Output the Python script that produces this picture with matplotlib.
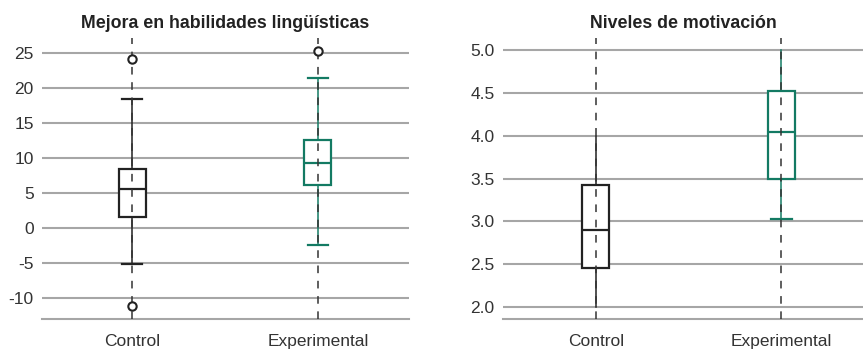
import matplotlib
matplotlib.use("Agg")
import matplotlib.pyplot as plt

plt.rcParams['font.family'] = ['Liberation Sans', 'DejaVu Sans']

groups = ["Control", "Experimental"]
colors = ["#222222", "#137a63"]

# Mejora en habilidades lingüísticas
ling_whislo = [-5.2, -2.4]
ling_q1 = [1.6, 6.2]
ling_med = [5.6, 9.3]
ling_q3 = [8.4, 12.6]
ling_whishi = [18.5, 21.4]
ling_fliers = [[24.2, -11.1], [25.3]]

# Niveles de motivación
mot_whislo = [2.0, 3.03]
mot_q1 = [2.45, 3.5]
mot_med = [2.9, 4.05]
mot_q3 = [3.43, 4.52]
mot_whishi = [4.0, 5.0]
mot_fliers = [[], []]

grid_col = "#a6a6a6"


def draw(ax, whislo, q1, med, q3, whishi, fliers, title, ylim, yticks,
         ylabels, xlim, hide_caps=()):
    stats = []
    for i in range(len(groups)):
        stats.append(dict(whislo=whislo[i], q1=q1[i], med=med[i], q3=q3[i],
                          whishi=whishi[i], fliers=fliers[i], label=groups[i]))
    for y in yticks:
        ax.axhline(y, color=grid_col, lw=1.5, zorder=0)
    for x in range(1, len(groups) + 1):
        ax.axvline(x, color="#333333", lw=1.1, ls=(0, (5, 5)), zorder=4)
    bp = ax.bxp(stats, positions=[1, 2], widths=0.145, patch_artist=True,
                capwidths=0.11, showfliers=True)
    for i, c in enumerate(colors):
        bp['boxes'][i].set(facecolor="white", edgecolor=c, linewidth=1.6,
                           zorder=2)
        bp['medians'][i].set(color=c, linewidth=1.6, zorder=3)
        for j in (2 * i, 2 * i + 1):
            bp['whiskers'][j].set(color=c, linewidth=1.1, zorder=3)
            bp['caps'][j].set(color=c, linewidth=1.6, zorder=3)
        # outliers are drawn in black for both groups
        bp['fliers'][i].set(marker='o', markerfacecolor='white',
                            markeredgecolor="#222222", markersize=6,
                            markeredgewidth=1.5, zorder=5)
    for j in hide_caps:
        bp['caps'][j].set_visible(False)
    ax.set_ylim(*ylim)
    ax.set_xlim(*xlim)
    ax.set_yticks(yticks)
    ax.set_yticklabels(ylabels)
    ax.set_xticks([1, 2])
    ax.set_xticklabels(groups)
    ax.tick_params(length=0, labelsize=12.5, colors="#333333", pad=6)
    ax.tick_params(axis='x', pad=11)
    for s in ("left", "right", "top"):
        ax.spines[s].set_visible(False)
    ax.spines["bottom"].set_color(grid_col)
    ax.spines["bottom"].set_linewidth(1.5)
    ax.set_title(title, fontsize=12.8, fontweight="bold", color="#222222",
                 pad=7)


fig = plt.figure(figsize=(8.63, 3.51), dpi=100)
ax1 = fig.add_axes([0.0487, 0.0912, 0.4253, 0.8006])
ax2 = fig.add_axes([0.5829, 0.0912, 0.4171, 0.8006])

draw(ax1, ling_whislo, ling_q1, ling_med, ling_q3, ling_whishi, ling_fliers,
     "Mejora en habilidades lingüísticas", (-13.0, 27.15),
     [-10, -5, 0, 5, 10, 15, 20, 25],
     ["-10", "-5", "0", "5", "10", "15", "20", "25"], (0.516, 2.49))
draw(ax2, mot_whislo, mot_q1, mot_med, mot_q3, mot_whishi, mot_fliers,
     "Niveles de motivación", (1.859, 5.145),
     [2.0, 2.5, 3.0, 3.5, 4.0, 4.5, 5.0],
     ["2.0", "2.5", "3.0", "3.5", "4.0", "4.5", "5.0"], (0.5, 2.44),
     hide_caps=(0, 1, 3))

fig.savefig("out.png", dpi=100)
